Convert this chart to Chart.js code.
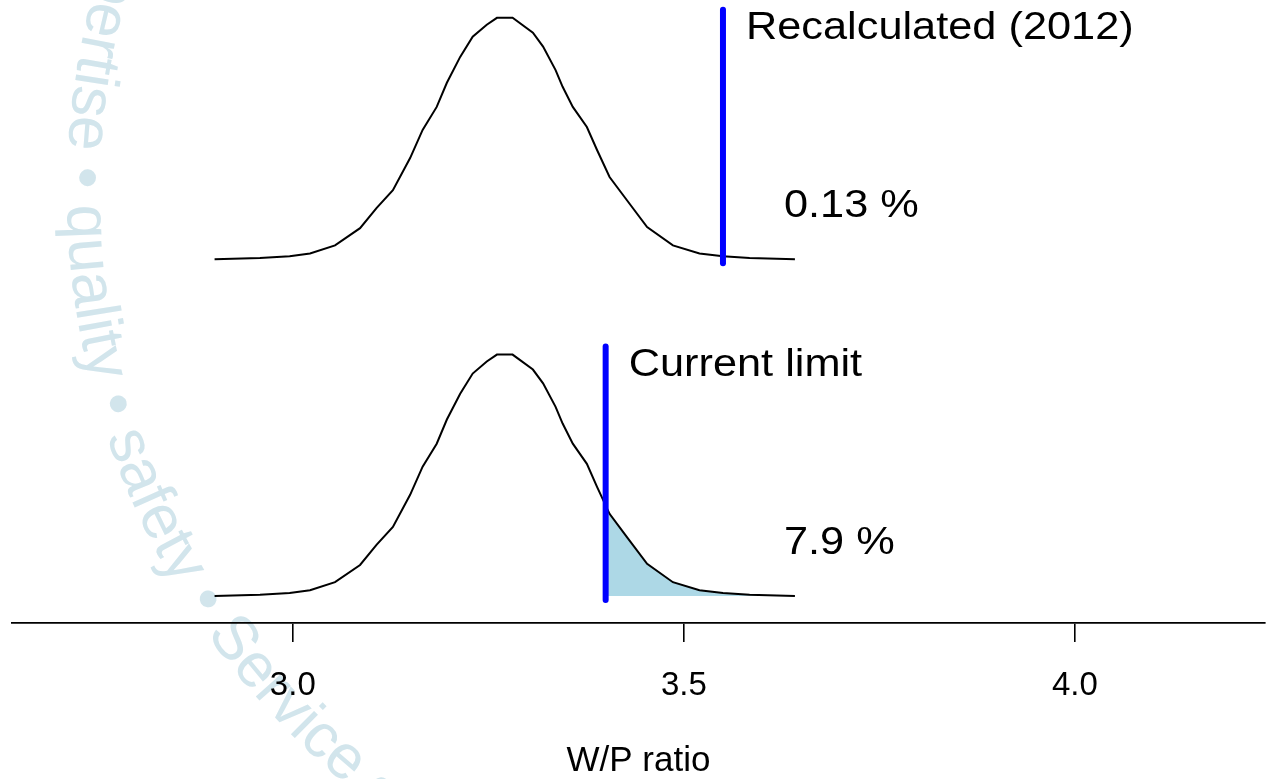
<!DOCTYPE html>
<html>
<head>
<meta charset="utf-8">
<title>W/P ratio</title>
<script src="https://cdn.jsdelivr.net/npm/chart.js@4/dist/chart.umd.min.js"></script>
<style>
  html, body { margin: 0; padding: 0; background: #fff; }
  #wrap { width: 1267px; height: 779px; position: relative; }
</style>
</head>
<body>
<div id="wrap"><canvas id="wpChart"></canvas></div>
<script>
// Simulated W/P ratio distribution (density curve)
const wpRatio = [2.900, 2.958, 2.996, 3.022, 3.054, 3.086, 3.107, 3.128, 3.150, 3.166,
  3.184, 3.197, 3.214, 3.230, 3.248, 3.261, 3.281, 3.307, 3.320, 3.336, 3.345, 3.358,
  3.376, 3.389, 3.405, 3.427, 3.453, 3.486, 3.520, 3.550, 3.584, 3.642];
const density = [0, 0.02, 0.05, 0.10, 0.24, 0.54, 0.89, 1.20, 1.76, 2.25,
  2.65, 3.07, 3.52, 3.87, 4.08, 4.20, 4.20, 3.94, 3.70, 3.29, 3.00, 2.65,
  2.30, 1.90, 1.43, 1.03, 0.56, 0.24, 0.10, 0.05, 0.02, 0];

// Limits: recalculated (top panel) and current (bottom panel)
const limits = [3.55, 3.40];
const limitLabels = ['Recalculated (2012)', 'Current limit'];
const exceedShare = ['0.13 %', '7.9 %'];
const xTicks = [3.0, 3.5, 4.0];

const FONT = '"Liberation Sans", Arial, Helvetica, sans-serif';
const BLUE = '#0000ff';
const SHADE = '#add8e6';

const curve = wpRatio.map((x, i) => ({ x, y: density[i] }));
const limitLine = v => [{ x: v, y: -0.07 }, { x: v, y: 4.34 }];

// light text running round the left edge, behind everything
const watermark = {
  id: 'watermark',
  beforeDraw(chart) {
    const ctx = chart.ctx;
    const text = 'expertise \u2022 quality \u2022 safety \u2022 Service \u2022 ';
    const cx = 835, cy = 192, r = 768;
    ctx.save();
    ctx.font = '62px ' + FONT;
    ctx.fillStyle = '#d2e5ec';
    let a = 181.1 * Math.PI / 180 +
      (ctx.measureText('expertise ').width + ctx.measureText('\u2022').width / 2) / r;
    for (const ch of text) {
      const w = ctx.measureText(ch).width;
      const mid = a - w / 2 / r;
      ctx.save();
      ctx.translate(cx + r * Math.cos(mid), cy + r * Math.sin(mid));
      ctx.rotate(mid - Math.PI / 2);
      ctx.fillText(ch, -w / 2, 0);
      ctx.restore();
      a -= w / r;
    }
    ctx.restore();
  }
};

// labels next to the limit lines and the exceedance percentages
const notes = {
  id: 'notes',
  afterDatasetsDraw(chart) {
    const { ctx, scales } = chart;
    const axes = [scales.yTop, scales.yBot];
    ctx.save();
    ctx.fillStyle = '#000';
    ctx.font = '38px ' + FONT;
    ctx.textBaseline = 'alphabetic';
    const put = (txt, x, y) => {
      ctx.save();
      ctx.translate(x, y);
      ctx.scale(1.14, 1);
      ctx.fillText(txt, 0, 0);
      ctx.restore();
    };
    axes.forEach((ax, i) => {
      put(limitLabels[i], scales.x.getPixelForValue(limits[i]) + 23, ax.getPixelForValue(3.83));
      put(exceedShare[i], scales.x.getPixelForValue(3.628), ax.getPixelForValue(0.73));
    });
    ctx.restore();
  }
};

// shade the tail beyond the current limit
function tailShade(c) {
  const chart = c.chart;
  const area = chart.chartArea;
  const clear = 'rgba(173,216,230,0)';
  if (!area || !chart.scales.x) return clear;
  const xp = chart.scales.x.getPixelForValue(limits[1]);
  const t = (xp - area.left) / (area.right - area.left);
  if (!isFinite(t)) return clear;
  const g = chart.ctx.createLinearGradient(area.left, 0, area.right, 0);
  g.addColorStop(0, clear);
  g.addColorStop(t, clear);
  g.addColorStop(t, SHADE);
  g.addColorStop(1, SHADE);
  return g;
}

new Chart(document.getElementById('wpChart'), {
  type: 'line',
  data: {
    datasets: [
      { data: limitLine(limits[0]), yAxisID: 'yTop', borderColor: BLUE, borderWidth: 6,
        borderCapStyle: 'round', pointRadius: 0, order: 0 },
      { data: limitLine(limits[1]), yAxisID: 'yBot', borderColor: BLUE, borderWidth: 6,
        borderCapStyle: 'round', pointRadius: 0, order: 0 },
      { data: curve, yAxisID: 'yTop', borderColor: '#000', borderWidth: 2,
        pointRadius: 0, tension: 0, order: 1 },
      { data: curve, yAxisID: 'yBot', borderColor: '#000', borderWidth: 2,
        pointRadius: 0, tension: 0, order: 1, fill: 'origin', backgroundColor: tailShade }
    ]
  },
  options: {
    responsive: true,
    maintainAspectRatio: false,
    animation: false,
    layout: { padding: { left: 12, right: 2, top: 0, bottom: 0 } },
    plugins: { legend: { display: false }, tooltip: { enabled: false } },
    elements: { line: { clip: false } },
    scales: {
      x: {
        type: 'linear',
        min: 2.641,
        max: 4.243,
        afterBuildTicks: s => { s.ticks = xTicks.map(v => ({ value: v })); },
        border: { display: true, color: '#000', width: 1.7 },
        grid: { drawOnChartArea: false, drawTicks: true, tickLength: 19, color: '#000', lineWidth: 1.6 },
        ticks: {
          color: '#000', padding: 27, maxRotation: 0,
          font: { family: FONT, size: 33, lineHeight: 1 },
          callback: v => Number(v).toFixed(1)
        },
        title: {
          display: true, text: 'W/P ratio', color: '#000',
          font: { family: FONT, size: 35, lineHeight: 1 },
          padding: { top: 15, bottom: 0 }
        }
      },
      yTop: { type: 'linear', display: false, min: -6.33, max: 4.51 },
      yBot: { type: 'linear', display: false, min: -0.47, max: 10.37 }
    }
  },
  plugins: [watermark, notes]
});
</script>
</body>
</html>
